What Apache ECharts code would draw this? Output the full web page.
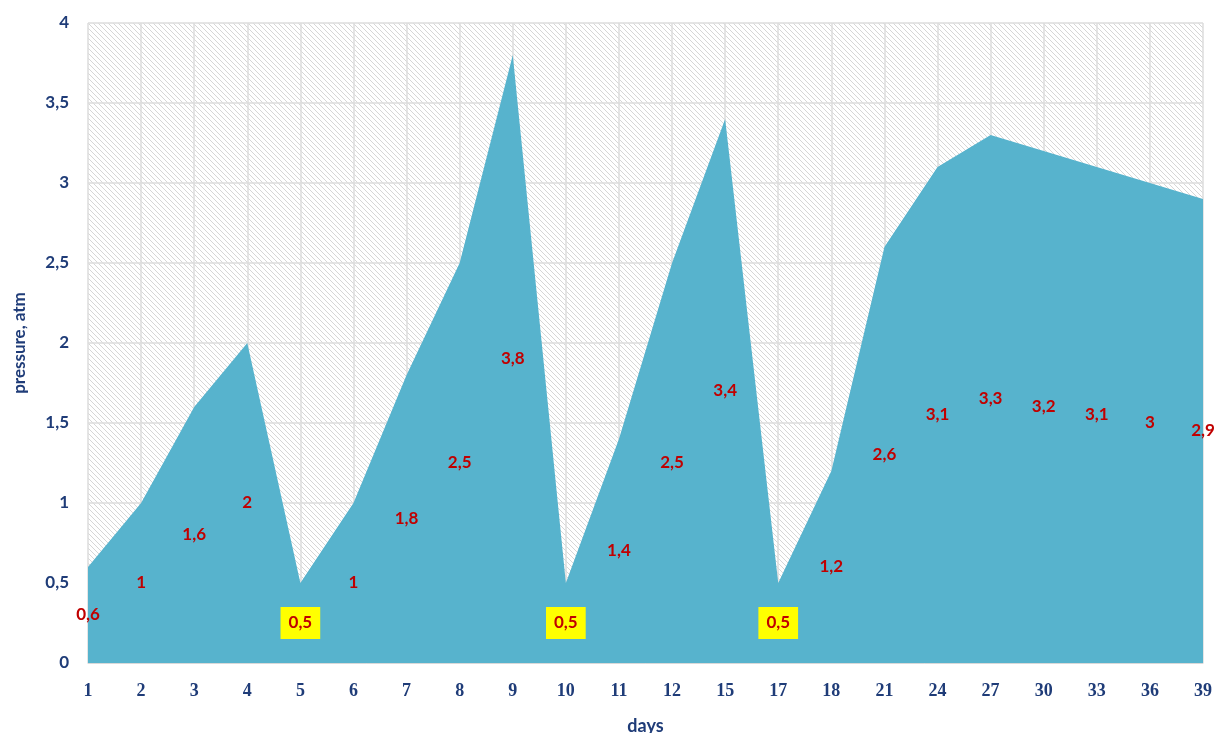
<!DOCTYPE html>
<html>
<head>
<meta charset="utf-8">
<script src="https://cdn.jsdelivr.net/npm/echarts@6/dist/echarts.min.js"></script>
<style>
  html, body { margin: 0; padding: 0; background: #fff; }
  #chart { width: 1219px; height: 733px; }
</style>
</head>
<body>
<div id="chart"></div>
<script>
// Days of measurement and the pressure read on each day (atm)
const days = ['1','2','3','4','5','6','7','8','9','10','11','12','15','17','18','21','24','27','30','33','36','39'];
const pressure = [0.6, 1, 1.6, 2, 0.5, 1, 1.8, 2.5, 3.8, 0.5, 1.4, 2.5, 3.4, 0.5, 1.2, 2.6, 3.1, 3.3, 3.2, 3.1, 3, 2.9];
// Values that are highlighted in their labels
const highlighted = [0.5];

const fmt = v => String(v).replace('.', ',');

// Diagonal hatch used as the plot background
function hatch() {
  const s = 5;
  const c = document.createElement('canvas');
  c.width = s; c.height = s;
  const g = c.getContext('2d');
  g.fillStyle = '#ffffff';
  g.fillRect(0, 0, s, s);
  g.strokeStyle = '#d6d6d6';
  g.lineWidth = 1;
  g.beginPath();
  g.moveTo(-1, -1); g.lineTo(s + 1, s + 1);
  g.moveTo(-1, s - 1); g.lineTo(1, s + 1);
  g.moveTo(s - 1, -1); g.lineTo(s + 1, 1);
  g.stroke();
  return { image: c, repeat: 'repeat' };
}

// Labels sit halfway up the filled area
const labelPoints = pressure.map((v, i) => ({
  value: [i, v / 2],
  raw: v,
  label: highlighted.includes(v)
    ? { backgroundColor: '#ffff00', padding: [8, 8, 7, 8] }
    : {}
}));

const navy = '#1f3c78';

const chart = echarts.init(document.getElementById('chart'));
chart.setOption({
  animation: false,
  grid: {
    left: 88, right: 16, top: 23, bottom: 70,
    outerBoundsMode: 'none',
    containLabel: false,
    show: true,
    backgroundColor: hatch(),
    borderWidth: 0
  },
  xAxis: {
    type: 'category',
    data: days,
    boundaryGap: false,
    name: 'days',
    nameLocation: 'middle',
    nameGap: 54,
    nameTextStyle: { fontFamily: 'Lato', fontWeight: 'bold', fontSize: 18, color: navy },
    axisLine: { lineStyle: { color: '#d9d9d9', width: 1 } },
    axisTick: { show: false },
    axisLabel: {
      interval: 0, margin: 19,
      fontFamily: 'Liberation Serif', fontWeight: 'bold', fontSize: 18, color: navy
    },
    splitLine: { show: true, interval: 0, lineStyle: { color: '#dcdcdc', width: 1.5 } }
  },
  yAxis: {
    type: 'value',
    min: 0, max: 4, interval: 0.5,
    name: 'pressure, atm',
    nameLocation: 'middle',
    nameGap: 60,
    nameRotate: 90,
    nameTextStyle: { fontFamily: 'Lato', fontWeight: 'bold', fontSize: 17, color: navy },
    axisLine: { show: false },
    axisTick: { show: false },
    axisLabel: {
      margin: 19,
      formatter: fmt,
      fontFamily: 'Lato', fontWeight: 'bold', fontSize: 17, color: navy
    },
    splitLine: { show: true, lineStyle: { color: '#dcdcdc', width: 1.5 } }
  },
  series: [
    {
      type: 'line',
      data: pressure,
      symbol: 'none',
      lineStyle: { width: 0 },
      areaStyle: { color: '#57b3cd', opacity: 1 },
      z: 2
    },
    {
      type: 'scatter',
      data: labelPoints,
      symbolSize: 1,
      itemStyle: { color: 'rgba(0,0,0,0)', opacity: 1 },
      silent: true,
      z: 5,
      label: {
        show: true,
        position: 'inside',
        formatter: p => fmt(p.data.raw),
        fontFamily: 'Lato', fontWeight: 'bold', fontSize: 17, color: '#c00000'
      }
    }
  ]
});
</script>
</body>
</html>
